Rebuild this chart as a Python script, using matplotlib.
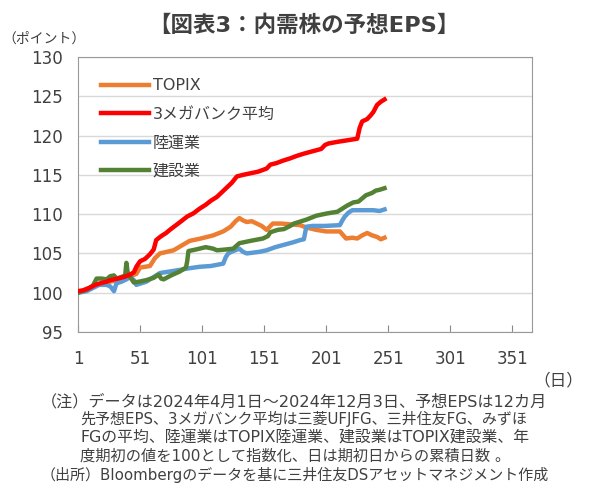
import matplotlib.pyplot as plt

# Latinは幅の広いDejaVu、日本語はNoto CJK（元図のメイリオに近い見た目）
plt.rcParams['font.family'] = ['DejaVu Sans', 'Noto Sans CJK JP']

# 期初日からの累積日数と指数値（期初=100）、図から読み取り
topix_x = [1, 10, 20, 30, 40, 48, 51, 59, 63, 67, 78, 91, 100, 110, 118, 124, 128, 131,
           134, 137, 141, 145, 149, 153, 158, 165, 172, 180, 185, 193, 201, 212, 217,
           222, 226, 230, 234, 238, 242, 245, 248]
topix_y = [100.0, 100.6, 101.2, 101.5, 101.9, 102.4, 103.2, 103.4, 104.4, 105.0, 105.4,
           106.6, 106.9, 107.3, 107.8, 108.4, 109.1, 109.5, 109.2, 109.0, 109.1, 108.8,
           108.5, 108.0, 108.8, 108.8, 108.7, 108.6, 108.3, 108.0, 107.8, 107.8, 106.9,
           107.0, 106.9, 107.3, 107.6, 107.3, 107.1, 106.8, 107.0]

bank_x = [1, 5, 10, 15, 19, 24, 27, 33, 38, 43, 46, 48, 51, 55, 59, 62, 64, 68, 72, 75,
          80, 85, 89, 94, 99, 104, 108, 113, 117, 121, 125, 129, 134, 140, 146, 153, 156,
          161, 166, 172, 177, 183, 190, 197, 200, 203, 210, 218, 226, 228, 230, 234, 237,
          239, 242, 245, 248]
bank_y = [100.2, 100.3, 100.6, 101.0, 101.2, 101.4, 101.6, 101.8, 102.0, 102.3, 102.6,
          103.3, 104.0, 104.3, 104.9, 105.5, 106.7, 107.2, 107.6, 108.0, 108.6, 109.2,
          109.7, 110.1, 110.7, 111.2, 111.7, 112.2, 112.8, 113.4, 114.0, 114.8, 115.0,
          115.2, 115.4, 115.8, 116.3, 116.5, 116.8, 117.1, 117.4, 117.7, 118.0, 118.3,
          118.8, 119.0, 119.2, 119.4, 119.6, 121.0, 121.8, 122.1, 122.6, 123.0, 123.9,
          124.3, 124.6]

land_x = [1, 8, 13, 18, 24, 27, 30, 32, 36, 40, 43, 46, 48, 56, 62, 67, 75, 83, 90, 99,
          108, 118, 120, 122, 126, 131, 134, 137, 142, 147, 153, 160, 167, 174, 180, 183,
          185, 190, 200, 212, 214, 216, 219, 222, 230, 239, 244, 248]
land_y = [100.0, 100.2, 100.6, 101.0, 101.0, 100.8, 100.2, 101.2, 101.4, 101.7, 102.0,
          101.6, 101.0, 101.4, 102.0, 102.5, 102.7, 102.9, 103.1, 103.3, 103.4, 103.7,
          104.5, 105.0, 105.3, 105.6, 105.2, 105.0, 105.1, 105.2, 105.4, 105.8, 106.1,
          106.4, 106.7, 106.8, 108.4, 108.5, 108.5, 108.6, 109.2, 109.7, 110.2, 110.5,
          110.5, 110.5, 110.4, 110.6]

const_x = [1, 8, 13, 16, 20, 24, 27, 30, 32, 36, 39, 40, 41, 43, 46, 50, 56, 62, 66, 68,
           70, 76, 83, 88, 89, 90, 96, 104, 110, 113, 120, 126, 131, 140, 150, 154, 156,
           162, 167, 172, 175, 185, 193, 202, 210, 214, 218, 223, 227, 230, 233, 238,
           241, 244, 248]
const_y = [100.0, 100.4, 100.9, 101.8, 101.8, 101.7, 102.1, 102.2, 101.8, 102.0, 102.2,
           103.8, 102.6, 102.0, 101.3, 101.4, 101.6, 101.9, 102.3, 101.8, 101.7, 102.2,
           102.7, 103.2, 104.0, 105.3, 105.5, 105.8, 105.6, 105.4, 105.5, 105.6, 106.3,
           106.6, 106.9, 107.2, 107.7, 108.0, 108.1, 108.5, 108.8, 109.3, 109.8, 110.1,
           110.3, 110.7, 111.1, 111.5, 111.6, 112.0, 112.4, 112.7, 113.0, 113.1, 113.3]

series_names = ['TOPIX', '3メガバンク平均', '陸運業', '建設業']
series_colors = ['#ED7D31', '#FF0000', '#5B9BD5', '#548235']

y_ticks = [95, 100, 105, 110, 115, 120, 125, 130]
x_ticks = [1, 51, 101, 151, 201, 251, 301, 351]

title = '【図表3：内需株の予想EPS】'
note = ['（注）データは2024年4月1日～2024年12月3日、予想EPSは12カ月',
        '先予想EPS、3メガバンク平均は三菱UFJFG、三井住友FG、みずほ',
        'FGの平均、陸運業はTOPIX陸運業、建設業はTOPIX建設業、年',
        '度期初の値を100として指数化、日は期初日からの累積日数 。',
        '（出所）Bloombergのデータを基に三井住友DSアセットマネジメント作成']

txt = '#404040'

fig = plt.figure(figsize=(6, 5), dpi=100)
ax = fig.add_axes([0.13, 0.336, 0.757, 0.55])

# 描画順：陸運業、建設業、TOPIX、3メガ
ax.plot(land_x, land_y, color=series_colors[2], lw=3.2, label=series_names[2], zorder=3)
ax.plot(const_x, const_y, color=series_colors[3], lw=3.2, label=series_names[3], zorder=4)
ax.plot(topix_x, topix_y, color=series_colors[0], lw=3.2, label=series_names[0], zorder=2)
ax.plot(bank_x, bank_y, color=series_colors[1], lw=3.2, label=series_names[1], zorder=5)

ax.set_xlim(1, 367)
ax.set_ylim(95, 130)
ax.set_yticks(y_ticks)
ax.set_xticks(x_ticks)
ax.tick_params(axis='y', length=0, labelsize=12, pad=11, labelcolor=txt)
ax.tick_params(axis='x', direction='in', length=5, color='#888888', labelsize=12,
               pad=13, labelcolor=txt)
ax.grid(axis='y', color='#d9d9d9', lw=1)
ax.set_axisbelow(True)
for s in ax.spines.values():
    s.set_color('#999999')

h, l = ax.get_legend_handles_labels()
order = [2, 3, 0, 1]
leg = ax.legend([h[i] for i in order], [l[i] for i in order], loc='upper left',
                bbox_to_anchor=(0.02, 0.975), frameon=False, fontsize=11.5,
                handlelength=3.0, labelspacing=0.85, handletextpad=0.2)
for t in leg.get_texts():
    t.set_color(txt)

fig.text(0.507, 0.95, title, ha='center', va='center', fontsize=16.2,
         fontweight='bold', color=txt)
fig.text(0.073, 0.922, '（ポイント）', ha='center', va='center', fontsize=10, color=txt)
fig.text(0.93, 0.24, '（日）', ha='center', va='center', fontsize=12, color=txt)

# 注記：数字・英字の多い行は元図（メイリオ）の幅に合わせて少し大きめ
note_sizes = [11.6, 10.8, 11.4, 11.0]
fig.text(0.068, 0.196, note[0], ha='left', va='center', fontsize=note_sizes[0], color=txt)
for i, line in enumerate(note[1:4]):
    fig.text(0.134, 0.162 - i * 0.037, line, ha='left', va='center',
             fontsize=note_sizes[i + 1], color=txt)
fig.text(0.068, 0.05, note[4], ha='left', va='center', fontsize=10.8, color=txt)

fig.savefig('out.png', dpi=100)
